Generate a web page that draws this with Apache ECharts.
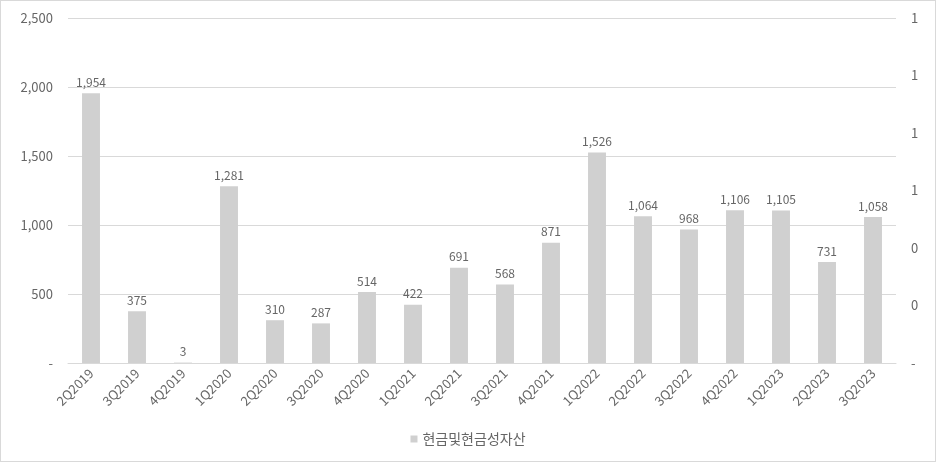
<!DOCTYPE html>
<html><head><meta charset="utf-8">
<script src="https://cdn.jsdelivr.net/npm/echarts@6/dist/echarts.min.js"></script>
<style>html,body{margin:0;padding:0;background:#fff}#c{width:936px;height:462px;box-sizing:border-box;border:1px solid #d9d9d9}</style>
</head><body><div id="c"></div>
<script>
const categories = ['2Q2019','3Q2019','4Q2019','1Q2020','2Q2020','3Q2020','4Q2020','1Q2021','2Q2021','3Q2021','4Q2021','1Q2022','2Q2022','3Q2022','4Q2022','1Q2023','2Q2023','3Q2023'];
const cashValues = [1954,375,3,1281,310,287,514,422,691,568,871,1526,1064,968,1106,1105,731,1058];
const seriesName = '현금및현금성자산';

const font = '"Noto Sans CJK KR", "DejaVu Sans", sans-serif';
const txt = '#666666';
const chart = echarts.init(document.getElementById('c'));
chart.setOption({
  animation: false,
  textStyle: {fontFamily: font},
  grid: {left: 67, right: 39, top: 17, bottom: 98},
  legend: {bottom: 10, left: 'center', icon: 'rect', itemWidth: 7, itemHeight: 7, itemGap: 3,
    textStyle: {color: txt, fontSize: 14, fontFamily: font}, data: [seriesName]},
  xAxis: {type: 'category', data: categories,
    axisLine: {lineStyle: {color: '#d9d9d9'}}, axisTick: {show: false},
    axisLabel: {rotate: 45, color: txt, fontSize: 13, margin: 8, interval: 0, fontFamily: font}},
  yAxis: [
    {type: 'value', min: 0, max: 2500, interval: 500,
      axisLine: {show: false}, axisTick: {show: false},
      splitLine: {lineStyle: {color: '#d9d9d9'}},
      axisLabel: {color: txt, fontSize: 13, margin: 15, fontFamily: font,
        formatter: v => v === 0 ? '-' : v.toLocaleString('en-US')}},
    {type: 'value', min: 0, max: 1.2, interval: 0.2, position: 'right',
      axisLine: {show: false}, axisTick: {show: false}, splitLine: {show: false},
      axisLabel: {color: txt, fontSize: 13, margin: 15, fontFamily: font,
        formatter: v => Math.abs(v) < 1e-9 ? '-' : String(Math.round(v))}}
  ],
  series: [{name: seriesName, type: 'bar', data: cashValues, barWidth: '39%',
    itemStyle: {color: '#d0d0d0'},
    label: {show: true, position: 'top', color: txt, fontSize: 12, distance: 5, fontFamily: font,
      formatter: p => p.value.toLocaleString('en-US')}}]
});
</script></body></html>
